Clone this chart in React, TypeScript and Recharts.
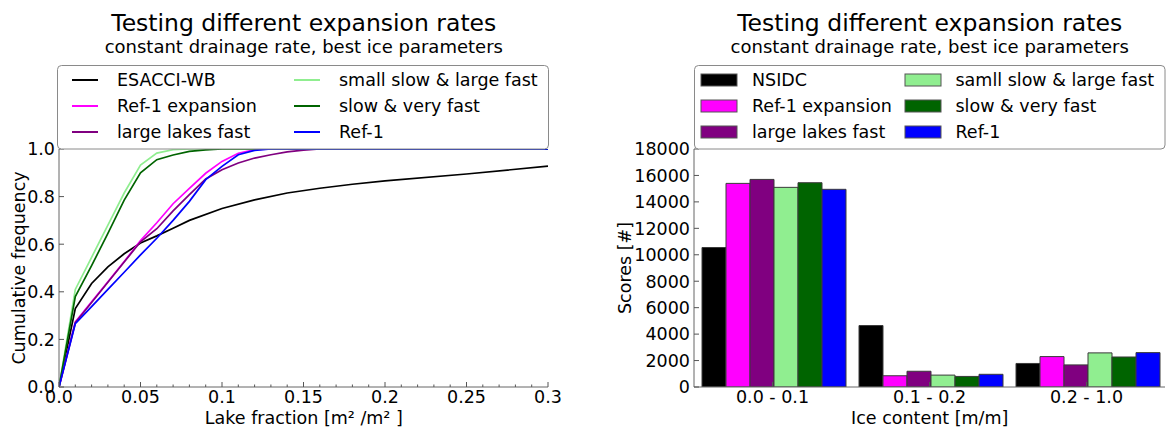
import React from 'react'
import { LineChart, Line, BarChart, Bar, XAxis, YAxis } from 'recharts'

const FONT = '"DejaVu Sans", sans-serif'
const FRAME = '#666'
const TICK = '#555'

// ---- left panel: cumulative frequency of lake fraction ----
const esacciX = [0, 0.01, 0.02, 0.03, 0.04, 0.05, 0.06, 0.07, 0.08, 0.1, 0.12, 0.14, 0.16, 0.18, 0.2, 0.25, 0.3]
const esacciY = [0, 0.33, 0.435, 0.505, 0.56, 0.605, 0.635, 0.667, 0.7, 0.75, 0.786, 0.815, 0.835, 0.852, 0.866, 0.895, 0.928]

const modelX = [0, 0.01, 0.02, 0.03, 0.04, 0.05, 0.06, 0.07, 0.08, 0.09, 0.1, 0.11, 0.12, 0.13, 0.14, 0.15, 0.16, 0.2, 0.25, 0.3]
const ref1ExpansionY = [0, 0.274, 0.358, 0.442, 0.527, 0.615, 0.69, 0.77, 0.835, 0.898, 0.948, 0.982, 0.997, 1, 1, 1, 1, 1, 1, 1]
const largeLakesFastY = [0, 0.27, 0.355, 0.44, 0.525, 0.61, 0.665, 0.74, 0.808, 0.874, 0.913, 0.941, 0.962, 0.976, 0.988, 0.995, 1, 1, 1, 1]
const smallSlowLargeFastY = [0, 0.41, 0.545, 0.68, 0.815, 0.932, 0.983, 0.997, 1, 1, 1, 1, 1, 1, 1, 1, 1, 1, 1, 1]
const slowVeryFastY = [0, 0.38, 0.51, 0.645, 0.785, 0.9, 0.955, 0.975, 0.99, 0.996, 1, 1, 1, 1, 1, 1, 1, 1, 1, 1]
const ref1Y = [0, 0.266, 0.338, 0.41, 0.482, 0.555, 0.625, 0.7, 0.78, 0.871, 0.927, 0.976, 0.994, 1, 1, 1, 1, 1, 1, 1]

const lakeTicks = [0, 0.01, 0.02, 0.03, 0.04, 0.05, 0.06, 0.07, 0.08, 0.09, 0.1, 0.11, 0.12, 0.13, 0.14, 0.15,
  0.16, 0.17, 0.18, 0.19, 0.2, 0.21, 0.22, 0.23, 0.24, 0.25, 0.26, 0.27, 0.28, 0.29, 0.3]
const lakeMajor = [0, 0.05, 0.1, 0.15, 0.2, 0.25, 0.3]
const lakeLabels = ['0.0', '0.05', '0.1', '0.15', '0.2', '0.25', '0.3']
const freqTicks = [0, 0.2, 0.4, 0.6, 0.8, 1]
const freqLabels = ['0.0', '0.2', '0.4', '0.6', '0.8', '1.0']

// ---- right panel: scores per ice content bin ----
const iceBins = ['0.0 - 0.1', '0.1 - 0.2', '0.2 - 1.0']
const nsidcScores = [10550, 4650, 1780]
const ref1ExpansionScores = [15400, 850, 2300]
const largeLakesFastScores = [15700, 1190, 1670]
const smallSlowLargeFastScores = [15100, 900, 2580]
const slowVeryFastScores = [15450, 800, 2270]
const ref1Scores = [14950, 960, 2600]
const scoreTicks = [0, 2000, 4000, 6000, 8000, 10000, 12000, 14000, 16000, 18000]
const binCenters = [0.5, 1.5, 2.5]

const lineSeries = [
  { name: 'ESACCI-WB', color: '#000000', x: esacciX, y: esacciY },
  { name: 'Ref-1 expansion', color: '#ff00ff', x: modelX, y: ref1ExpansionY },
  { name: 'large lakes fast', color: '#800080', x: modelX, y: largeLakesFastY },
  { name: 'small slow & large fast', color: '#90ee90', x: modelX, y: smallSlowLargeFastY },
  { name: 'slow & very fast', color: '#006400', x: modelX, y: slowVeryFastY },
  { name: 'Ref-1', color: '#0000ff', x: modelX, y: ref1Y },
]

const barSeries = [
  { key: 'nsidc', name: 'NSIDC', color: '#000000', values: nsidcScores },
  { key: 'ref1exp', name: 'Ref-1 expansion', color: '#ff00ff', values: ref1ExpansionScores },
  { key: 'large', name: 'large lakes fast', color: '#800080', values: largeLakesFastScores },
  { key: 'smallslow', name: 'samll slow & large fast', color: '#90ee90', values: smallSlowLargeFastScores },
  { key: 'slowfast', name: 'slow & very fast', color: '#006400', values: slowVeryFastScores },
  { key: 'ref1', name: 'Ref-1', color: '#0000ff', values: ref1Scores },
]

const scoreRows = iceBins.map((bin, i) => {
  const row: Record<string, string | number> = { bin }
  barSeries.forEach((s) => { row[s.key] = s.values[i] })
  return row
})

const majorIndex = (v: number) => lakeMajor.findIndex((m) => Math.abs(m - v) < 1e-9)

const tickText = { fontFamily: FONT, fontSize: 17.5, fill: '#000' }

function lakeBottomTick(p: any) {
  const idx = majorIndex(p.payload.value)
  return (
    <g>
      <line x1={p.x} x2={p.x} y1={p.y} y2={p.y - (idx >= 0 ? 5 : 2.5)} stroke={TICK} />
      {idx >= 0 && (
        <text x={p.x} y={p.y + 16} textAnchor="middle" {...tickText}>{lakeLabels[idx]}</text>
      )}
    </g>
  )
}

function lakeTopTick(p: any) {
  const idx = majorIndex(p.payload.value)
  return <line x1={p.x} x2={p.x} y1={p.y} y2={p.y + (idx >= 0 ? 5 : 2.5)} stroke={TICK} />
}

function leftTick(labels: string[] | null) {
  return (p: any) => (
    <g>
      <line x1={p.x} x2={p.x + 5} y1={p.y} y2={p.y} stroke={TICK} />
      <text x={p.x - 4} y={p.y} dy="0.36em" textAnchor="end" {...tickText}>
        {labels ? labels[p.index] : String(p.payload.value)}
      </text>
    </g>
  )
}

function rightTick(p: any) {
  return <line x1={p.x} x2={p.x - 5} y1={p.y} y2={p.y} stroke={TICK} />
}

function binBottomTick(p: any) {
  return (
    <g>
      <line x1={p.x} x2={p.x} y1={p.y} y2={p.y - 5} stroke={TICK} />
      <text x={p.x} y={p.y + 16} textAnchor="middle" {...tickText}>{p.payload.value}</text>
    </g>
  )
}

function binTopTick(p: any) {
  return <line x1={p.x} x2={p.x} y1={p.y} y2={p.y + 5} stroke={TICK} />
}

const axisLine = { stroke: FRAME, strokeWidth: 1 }

function LakeChart() {
  return (
    <LineChart width={580} height={430} margin={{ top: 149, right: 32, bottom: 0, left: 0 }}>
      <XAxis type="number" dataKey="x" domain={[0, 0.3]} allowDataOverflow ticks={lakeTicks} interval={0}
        height={43} tickSize={0} tickMargin={0} tickLine={false} axisLine={axisLine} tick={lakeBottomTick} />
      <XAxis xAxisId="top" orientation="top" type="number" domain={[0, 0.3]} allowDataOverflow ticks={lakeTicks}
        interval={0} height={0} tickSize={0} tickMargin={0} tickLine={false} axisLine={axisLine} tick={lakeTopTick} />
      <YAxis type="number" domain={[0, 1]} allowDataOverflow ticks={freqTicks} interval={0} width={59}
        tickSize={0} tickMargin={0} tickLine={false} axisLine={axisLine} tick={leftTick(freqLabels)} />
      <YAxis yAxisId="right" orientation="right" type="number" domain={[0, 1]} allowDataOverflow ticks={freqTicks}
        interval={0} width={0} tickSize={0} tickMargin={0} tickLine={false} axisLine={axisLine} tick={rightTick} />
      {lineSeries.map((s) => (
        <Line key={s.name} data={s.x.map((x, i) => ({ x, y: s.y[i] }))} dataKey="y" type="linear"
          stroke={s.color} strokeWidth={1.7} dot={false} isAnimationActive={false} />
      ))}
    </LineChart>
  )
}

function ScoreChart() {
  return (
    <BarChart width={567} height={430} data={scoreRows} margin={{ top: 149, right: 2, bottom: 0, left: 0 }}
      barCategoryGap={8} barGap={0}>
      <XAxis dataKey="bin" height={43} interval={0} tickSize={0} tickMargin={0} tickLine={false}
        axisLine={axisLine} tick={binBottomTick} />
      <XAxis xAxisId="top" orientation="top" type="number" domain={[0, 3]} allowDataOverflow ticks={binCenters}
        interval={0} height={0} tickSize={0} tickMargin={0} tickLine={false} axisLine={axisLine} tick={binTopTick} />
      <YAxis type="number" domain={[0, 18000]} allowDataOverflow ticks={scoreTicks} interval={0} width={94}
        tickSize={0} tickMargin={0} tickLine={false} axisLine={axisLine} tick={leftTick(null)} />
      <YAxis yAxisId="right" orientation="right" type="number" domain={[0, 18000]} allowDataOverflow
        ticks={scoreTicks} interval={0} width={0} tickSize={0} tickMargin={0} tickLine={false}
        axisLine={axisLine} tick={rightTick} />
      {barSeries.map((s) => (
        <Bar key={s.key} dataKey={s.key} name={s.name} fill={s.color} stroke="#3a3a3a" strokeWidth={1}
          isAnimationActive={false} />
      ))}
    </BarChart>
  )
}

const rows = [80, 106, 132]
const legendText = { fontFamily: FONT, fontSize: 17.5, fill: '#000' }

function Overlay() {
  const titles = [
    { cx: 303.8, label: 'Lake fraction [m² /m² ]', ylab: 'Cumulative frequency', ylx: 24.5 },
    { cx: 929.7, label: 'Ice content [m/m]', ylab: 'Scores [#]', ylx: 631 },
  ]
  return (
    <svg width={1167} height={430} style={{ position: 'absolute', left: 0, top: 0, pointerEvents: 'none' }}>
      {titles.map((t) => (
        <g key={t.label}>
          <text x={t.cx} y={31} textAnchor="middle" fontFamily={FONT} fontSize={23.5}>Testing different expansion rates</text>
          <text x={t.cx} y={53} textAnchor="middle" fontFamily={FONT} fontSize={18}>constant drainage rate, best ice parameters</text>
          <text x={t.cx} y={424} textAnchor="middle" {...legendText}>{t.label}</text>
          <text x={t.ylx} y={268} textAnchor="middle" transform={`rotate(-90 ${t.ylx} 268)`} {...legendText}>{t.ylab}</text>
        </g>
      ))}

      {/* left legend */}
      <rect x={57.5} y={65.5} width={491} height={83.5} rx={4} fill="#fff" stroke="#8a8a8a" />
      {lineSeries.map((s, i) => {
        const col = Math.floor(i / 3)
        const y = rows[i % 3]
        const sx = col === 0 ? 72 : 294
        const tx = col === 0 ? 117 : 339
        return (
          <g key={s.name}>
            <line x1={sx} x2={sx + 26} y1={y} y2={y} stroke={s.color} strokeWidth={2} />
            <text x={tx} y={y} dy="0.36em" {...legendText}>{s.name}</text>
          </g>
        )
      })}

      {/* right legend */}
      <rect x={694.5} y={65.5} width={470.5} height={83.5} rx={4} fill="#fff" stroke="#8a8a8a" />
      {barSeries.map((s, i) => {
        const col = Math.floor(i / 3)
        const y = rows[i % 3]
        const sx = col === 0 ? 701 : 905
        const tx = col === 0 ? 752 : 955.5
        return (
          <g key={s.key}>
            <rect x={sx} y={y - 6} width={36} height={12} fill={s.color} stroke="#555" />
            <text x={tx} y={y} dy="0.36em" {...legendText}>{s.name}</text>
          </g>
        )
      })}
    </svg>
  )
}

export default function App() {
  return (
    <div style={{ position: 'absolute', left: 0, top: 0, width: 1167, height: 430, background: '#fff', fontFamily: FONT }}>
      <div style={{ position: 'absolute', left: 0, top: 0 }}>
        <LakeChart />
      </div>
      <div style={{ position: 'absolute', left: 600, top: 0 }}>
        <ScoreChart />
      </div>
      <Overlay />
    </div>
  )
}
